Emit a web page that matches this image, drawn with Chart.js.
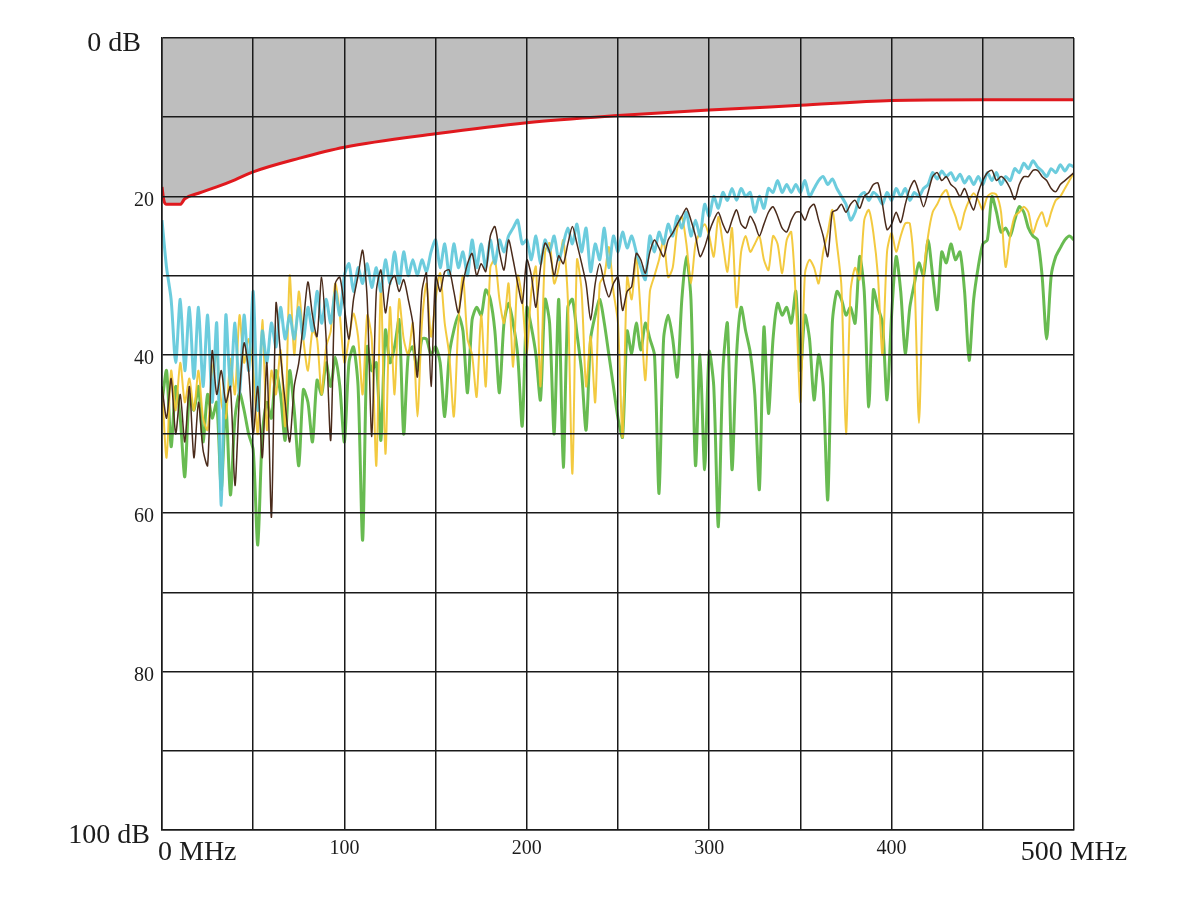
<!DOCTYPE html>
<html>
<head>
<meta charset="utf-8">
<script src="https://cdn.jsdelivr.net/npm/chart.js@4.4.1/dist/chart.umd.min.js"></script>
<style>
  body { margin: 0; background: #fff; }
  #wrap { width: 1200px; height: 900px; }
</style>
</head>
<body>
<div id="wrap"><canvas id="spectrum" width="1200" height="900"></canvas></div>
<script>
// sweep 0..500 MHz, one reading every 2.5 MHz
const stepMHz = 2.5;
const freqMHz = Array.from({ length: 201 }, (_, i) => i * stepMHz);

// limit line (red) and the grey zone above it
const limitFreqMHz = [0, 1, 2.5, 10, 12.5, 20, 30, 40, 50, 75, 100, 150, 200, 250, 300, 350, 400, 450, 500];
const limitDb = [18.8, 20.5, 21, 21, 20.3, 19.6, 18.8, 17.9, 16.9, 15.2, 13.8, 12.1, 10.7, 9.8, 9.1, 8.5, 7.9, 7.8, 7.8];

// measured traces, dB below reference
const cyanDb = [
  23, 29, 33, 41, 33, 42, 34, 43, 34, 44, 35, 46, 36, 59, 35, 44, 36, 45, 35, 42,
  32, 47, 37, 41, 36, 39, 34, 38, 35, 38, 34, 38, 34, 37, 32, 36, 33, 36, 32, 35,
  30, 28.5, 32, 29, 31, 28.5, 31.5, 29, 32, 28, 31, 27, 31, 27, 30, 28, 30, 28, 29.5, 27,
  25.5, 29, 26, 30, 26, 29, 27, 30, 25.5, 29, 26, 29, 25.5, 28.5, 25.5, 27, 25, 24, 23, 26,
  25.5, 28, 25, 28.5, 25.5, 27, 25, 28, 26, 24, 26, 23.5, 27, 24, 29.5, 26, 28, 24, 29, 25,
  27, 24.5, 26.5, 25, 27, 29, 30.5, 25, 27, 24.5, 26, 23.5, 25, 22.5, 24, 22, 25, 23, 25, 21,
  22.5, 20, 21.5, 19.5, 20.5, 19, 20.5, 19, 20, 19.5, 22, 20, 21.5, 19, 19.5, 18, 19.5, 18.5, 19.5, 18.5,
  19.5, 18, 20, 19, 18, 17.5, 18.5, 17.8, 19, 20, 21, 23, 22, 20, 19.5, 20.5, 19.5, 20, 21, 19.5,
  20.5, 19, 20, 19, 20.5, 19.5, 20, 19, 18.5, 17, 17.8, 16.8, 17.5, 17, 18, 17.2, 18.3, 17.5, 18.5, 17.5,
  18.5, 17, 18, 17, 18.5, 17.5, 18, 16.5, 17, 15.8, 16.5, 15.5, 16.3, 16.8, 17.5, 16.5, 17, 16, 16.8, 16,
  16.3
];

const brownDb = [
  44, 48, 43, 50, 45, 51, 44, 53, 46, 52, 54, 39.5, 45, 42, 46, 44, 56.5, 45, 38.5, 42,
  50, 44, 53, 41, 60.5, 33.5, 40, 46, 51, 44, 41, 36, 30.8, 35, 37.7, 30.2, 38, 50.8, 31, 30.2,
  34, 38, 33, 30, 26.8, 33, 50.3, 32, 29.3, 34.7, 31, 30, 32, 30.5, 33, 36, 42.8, 32, 29.7, 44,
  30, 32, 29.5, 29.3, 32, 34.7, 31, 28.5, 27.2, 30, 28.5, 29.5, 25, 23.8, 27, 29.3, 25.5, 28, 31, 33.5,
  28, 30, 34, 29, 25.9, 27, 30, 27.5, 28.5, 26, 23.8, 26, 28.4, 31, 35.6, 31, 28.5, 31, 32.7, 31,
  30.2, 34.4, 32, 31.4, 27.2, 28, 29.7, 27, 25.5, 26.5, 27.6, 25.5, 24.6, 23.5, 22.5, 21.5, 23, 25, 27.6, 26.4,
  24.5, 23, 22, 23.5, 24.6, 23, 21.7, 23.5, 24, 22.5, 23.5, 25, 23.5, 22, 21.3, 22.5, 24, 24.5, 23, 22,
  22, 23, 21.5, 21, 23, 25, 27.6, 22, 21.7, 21, 22, 21, 20.5, 21.5, 20, 19.5, 18.5, 18.3, 21, 24.2,
  23.5, 22, 23.3, 21, 19, 18, 19.5, 21.3, 19.5, 17.5, 17, 18, 17.5, 18.5, 19, 20, 19, 20.5, 21.7, 19.5,
  18, 17, 16.7, 18, 17.5, 18, 19, 20.4, 18.5, 17.5, 17.5, 16.7, 16.7, 17.5, 18, 19, 19.4, 18.5, 18, 17.5,
  17
];

const yellowDb = [
  44, 53, 42, 47, 41, 46, 43, 47, 42, 48, 49.5, 42, 40, 46, 48, 40.5, 45, 35, 41, 38,
  42, 50, 35.6, 49.5, 42, 45, 39.4, 49, 30, 40, 32, 38, 42, 37, 38, 45, 39, 37, 31, 35,
  41, 38, 34.8, 37.7, 45, 35, 38, 54, 31.4, 52.5, 34, 45, 33, 38, 40, 36, 47.8, 36, 31, 37.7,
  33, 29.7, 36, 40, 47.8, 36, 30, 38, 40, 45.3, 35, 44, 29, 28, 33, 36, 31, 41.5, 30, 33,
  39.8, 32, 28.9, 44, 27, 25.9, 31, 29, 25.5, 33, 55, 28, 31.8, 44, 37.7, 46, 31, 30, 26.4, 32,
  36, 50.4, 30.2, 33, 27.6, 35, 43.2, 32, 30, 28, 25.5, 30.2, 29, 24, 22.6, 26, 31, 26, 24.5, 23.5,
  25, 27.6, 22.6, 26, 29.5, 24, 34, 27, 25, 27, 26, 25, 28, 29.3, 25, 26, 29.7, 25.5, 24.5, 33,
  46, 29.7, 28, 29, 31, 27, 24.6, 21.7, 26, 31.4, 50, 32, 29, 30.5, 23, 21.7, 24.6, 30, 40, 27,
  24.6, 27, 25, 23.4, 23.4, 30, 48.6, 30, 25, 22, 21, 19.8, 19.2, 21, 22.5, 24.2, 22, 20.5, 19.6, 20.5,
  21.7, 20, 19.6, 19.8, 22, 28.9, 25, 22.5, 22, 21.3, 22, 24.6, 23, 22, 23.8, 22, 20.5, 20, 19, 18,
  17
];

const greenDb = [
  46, 42, 51.6, 44, 48, 55.4, 45, 47, 44, 51, 45, 48, 46, 57, 46, 57.7, 48, 44.8, 47, 50,
  52, 64, 50, 46, 48, 42, 45, 50.8, 42, 47, 54, 44.4, 46, 51, 43.2, 45, 41, 44, 40.3, 44,
  51, 41, 39, 44, 63.4, 39, 42, 41, 50.8, 36.9, 41, 39, 35.6, 50, 40, 39, 42, 38, 38, 40,
  39, 41, 47.8, 40, 36.9, 35, 37, 44.8, 35.6, 34, 35, 31.8, 33, 37, 44.8, 36, 33.5, 36, 40, 49,
  34, 36.5, 40, 45.7, 33, 36, 50, 33, 54.2, 34, 33, 37.3, 42, 49.5, 38, 35, 33, 36, 40, 44,
  48, 50.4, 37, 39.8, 36, 39.4, 36, 38, 40, 57.5, 38, 35, 38, 42.8, 33, 27.6, 33, 54, 40, 54.5,
  39.6, 44, 61.7, 42, 36, 54.5, 40, 34, 37, 39.7, 45, 57, 36.5, 47.4, 38, 33.5, 35, 34, 36, 32,
  42, 35, 38, 45.7, 40, 44, 58.3, 36, 32, 33, 35, 34, 36, 27.6, 32, 46.6, 31.8, 34, 36, 45.7,
  35, 27.6, 32, 39.8, 34, 31, 28.4, 30, 25.5, 30, 34.3, 27, 28.4, 26, 28, 27, 32, 40.7, 33, 28.9,
  26, 25.5, 20, 22, 24.5, 24, 25, 23, 21.3, 22, 24, 25, 25.5, 30, 38, 30, 27.6, 26.5, 25.5, 25,
  25.5
];

// axis labels
const yTickValues = [0, 20, 40, 60, 80, 100];
const yTickLabels = ['0 dB', '20', '40', '60', '80', '100 dB'];
const xTickValues = [0, 100, 200, 300, 400, 500];
const xTickLabels = ['0 MHz', '100', '200', '300', '400', '500 MHz'];

const toPoints = (xs, ys) => ys.map((v, i) => ({ x: xs[i], y: v }));

const serif = '"Liberation Serif", "Times New Roman", serif';

// draw the tick labels ourselves, the end ones are bigger with units
const tickLabels = {
  id: 'tickLabels',
  afterDraw(chart) {
    const { ctx, scales: { x, y } } = chart;
    ctx.save();
    ctx.fillStyle = '#1c1c1c';
    ctx.textBaseline = 'middle';
    ctx.textAlign = 'right';
    yTickValues.forEach((v, i) => {
      const last = yTickValues.length - 1;
      const big = i === 0 || i === last;
      ctx.font = (big ? '28px ' : '20px ') + serif;
      const gap = i === 0 ? 21 : (i === last ? 12 : 8);
      ctx.fillText(yTickLabels[i], x.left - gap, y.getPixelForValue(v) + (big ? 6 : 4));
    });
    xTickValues.forEach((v, i) => {
      const last = xTickValues.length - 1;
      const big = i === 0 || i === last;
      ctx.font = (big ? '28px ' : '20px ') + serif;
      ctx.textAlign = i === 0 ? 'left' : 'center';
      const px = x.getPixelForValue(v) + (i === 0 ? -4 : 0);
      ctx.fillText(xTickLabels[i], px, y.bottom + (big ? 23 : 19));
    });
    ctx.restore();
  }
};

const trace = (label, vals, color, width, order) => ({
  label,
  data: toPoints(freqMHz, vals),
  borderColor: color,
  borderWidth: width,
  pointRadius: 0,
  tension: 0.25,
  fill: false,
  order
});

// grid sits on top of the grey zone and the traces
const gridStyle = { color: '#1a1a1a', lineWidth: 1.5, drawTicks: false, z: 1 };
const borderStyle = { display: true, color: '#1a1a1a', width: 1.5, z: 1 };

new Chart(document.getElementById('spectrum').getContext('2d'), {
  type: 'line',
  data: {
    datasets: [
      {
        label: 'Limit',
        data: toPoints(limitFreqMHz, limitDb),
        borderColor: '#e0191e',
        borderWidth: 3,
        pointRadius: 0,
        cubicInterpolationMode: 'monotone',
        fill: { value: 0 },
        backgroundColor: '#bebebe',
        order: 0
      },
      trace('Brown', brownDb, '#4a2b1b', 1.5, 1),
      trace('Cyan', cyanDb, 'rgba(96, 200, 218, 0.92)', 3, 2),
      trace('Yellow', yellowDb, 'rgba(242, 198, 48, 0.92)', 2, 3),
      trace('Green', greenDb, 'rgba(88, 180, 62, 0.9)', 3, 4)
    ]
  },
  options: {
    responsive: false,
    animation: false,
    layout: { padding: { left: 162, top: 38, right: 126, bottom: 70 } },
    plugins: {
      legend: { display: false },
      tooltip: { enabled: false }
    },
    scales: {
      x: {
        type: 'linear',
        min: 0,
        max: 500,
        ticks: { display: false, stepSize: 50 },
        grid: gridStyle,
        border: borderStyle
      },
      y: {
        type: 'linear',
        min: 0,
        max: 100,
        reverse: true,
        ticks: { display: false, stepSize: 10 },
        grid: gridStyle,
        border: borderStyle
      }
    }
  },
  plugins: [tickLabels]
});
</script>
</body>
</html>
